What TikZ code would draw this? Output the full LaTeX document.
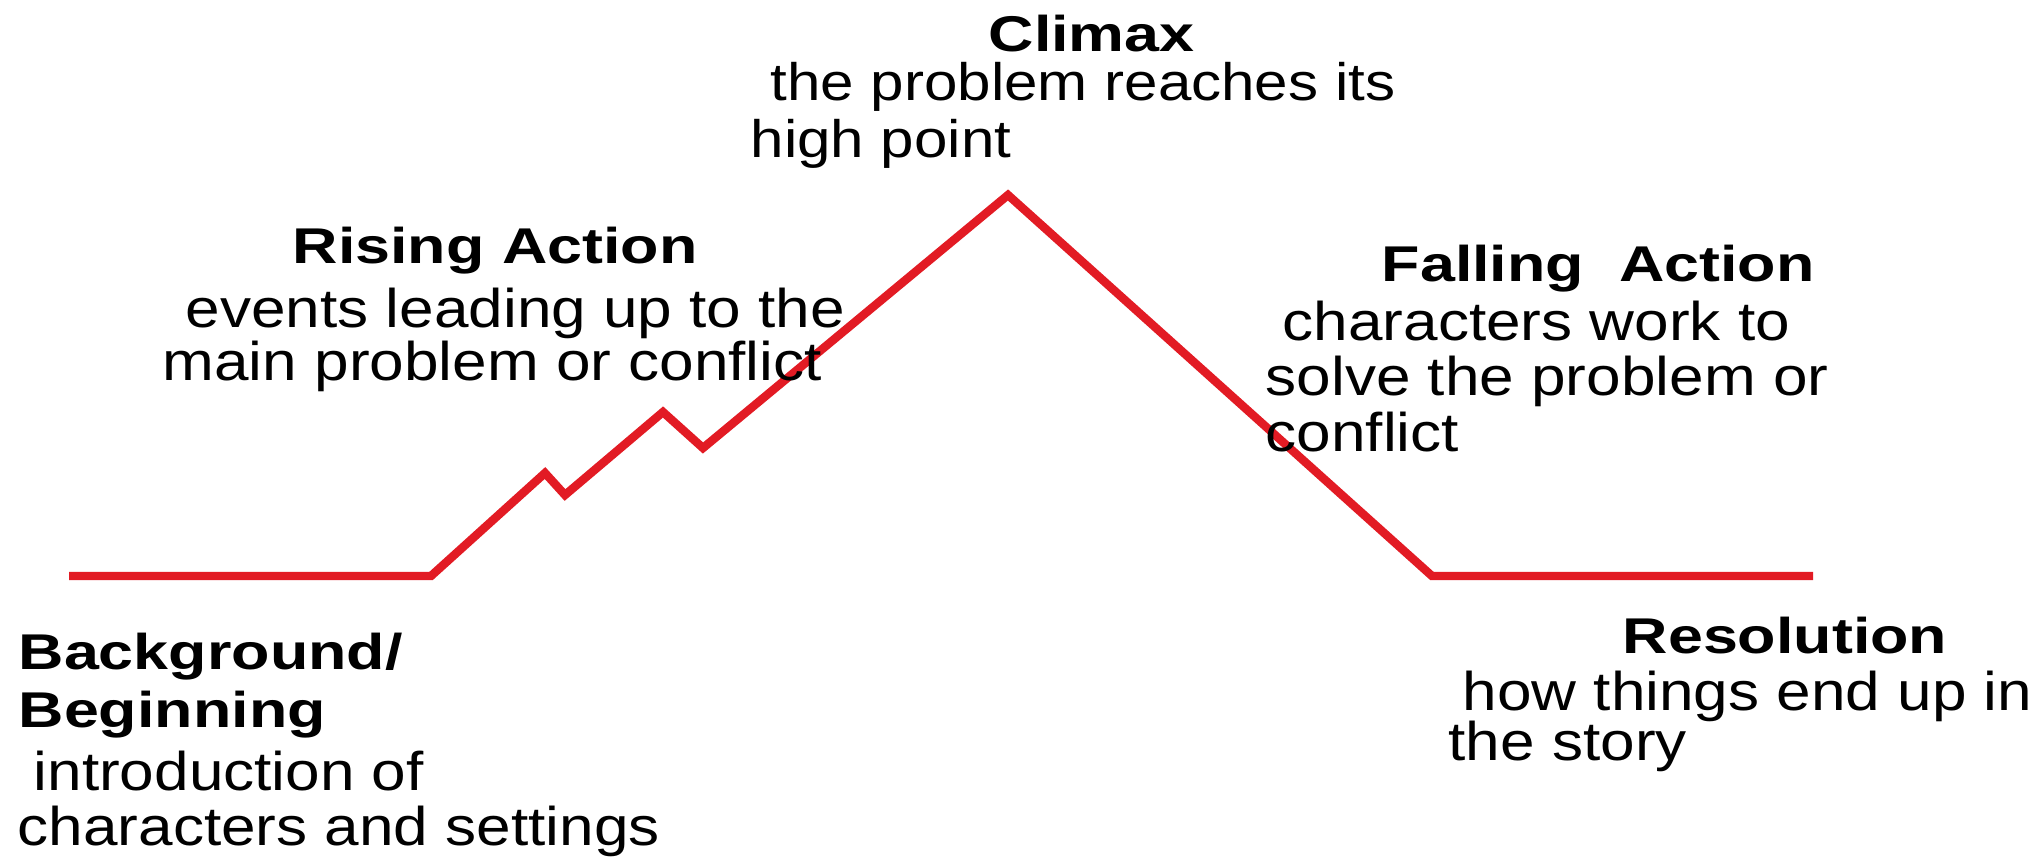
\documentclass[tikz,border=0pt]{standalone}
\usepackage{fontspec}
\setmainfont[FakeStretch=1.14]{Liberation Sans}
\newfontfamily\headfont[FakeStretch=1.25]{Liberation Sans}
\definecolor{plotred}{RGB}{226,27,36}

\begin{document}
\begin{tikzpicture}[
  head/.style={font=\headfont\fontsize{14.3}{17}\selectfont\bfseries, inner sep=0pt, anchor=base west},
  desc/.style={font=\fontsize{15.5}{18}\selectfont, inner sep=0pt, anchor=base west},
  plotline/.style={plotred, line width=2.4pt, line join=miter},
]
\useasboundingbox (0,0) rectangle (20.34,8.59);

% --- Plot line: flat start, rising steps, peak, fall, flat end ---
\coordinate (start)   at (0.69, 2.83);
\coordinate (rise)    at (4.31, 2.83);
\coordinate (step1)   at (5.45, 3.86);
\coordinate (dip1)    at (5.65, 3.64);
\coordinate (step2)   at (6.63, 4.47);
\coordinate (dip2)    at (7.03, 4.11);
\coordinate (peak)    at (10.08, 6.64);
\coordinate (settle)  at (14.32, 2.83);
\coordinate (finish)  at (18.13, 2.83);

\draw[plotline] (start) -- (rise) -- (step1) -- (dip1) -- (step2) -- (dip2)
  -- (peak) -- (settle) -- (finish);

% --- Climax ---
\node[head] (climax) at (9.88, 8.08) {Climax};
\node[desc, font=\fontsize{15}{18}\selectfont] (climax1) at (7.70, 7.59) {the problem reaches its};
\node[desc, font=\fontsize{15}{18}\selectfont] (climax2) at (7.50, 7.02) {high point};

% --- Rising action ---
\node[head] (rising) at (2.92, 5.96) {Rising Action};
\node[desc] (rising1) at (1.85, 5.32) {events leading up to the};
\node[desc] (rising2) at (1.62, 4.79) {main problem or conflict};

% --- Falling action ---
\node[head] (falling) at (13.81, 5.78) {Falling\ \ Action};
\node[desc] (falling1) at (12.82, 5.19) {characters work to};
\node[desc] (falling2) at (12.65, 4.64) {solve the problem or};
\node[desc] (falling3) at (12.65, 4.08) {conflict};

% --- Background / beginning ---
\node[head] (backgr) at (0.18, 1.90) {Background/};
\node[head] (begin) at (0.18, 1.32) {Beginning};
\node[desc] (begin1) at (0.33, 0.69) {introduction of};
\node[desc] (begin2) at (0.17, 0.14) {characters and settings};

% --- Resolution ---
\node[head] (resol) at (16.22, 2.06) {Resolution};
\node[desc] (resol1) at (14.62, 1.49) {how things end up in};
\node[desc] (resol2) at (14.48, 0.99) {the story};

\end{tikzpicture}
\end{document}
